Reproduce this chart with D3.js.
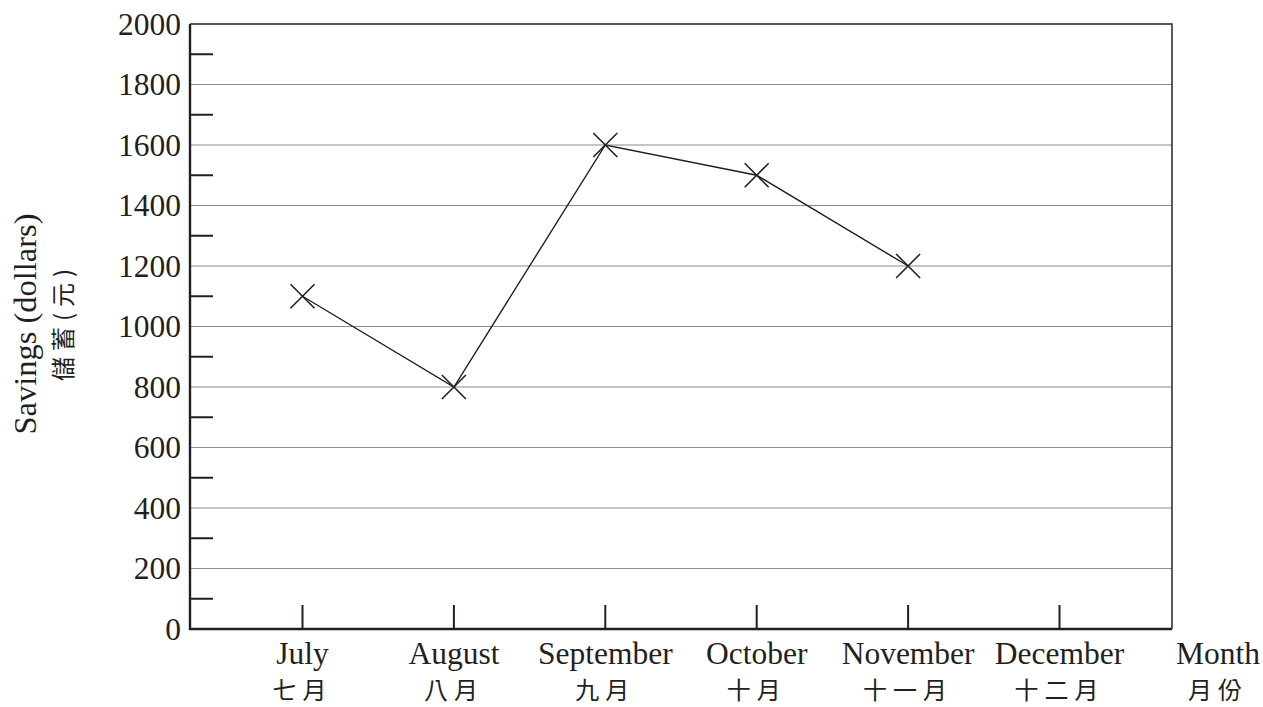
<!DOCTYPE html>
<html>
<head>
<meta charset="utf-8">
<script src="https://cdn.jsdelivr.net/npm/d3@7"></script>
<style>
  body { margin: 0; background: #fff; }
  text { font-family: "Liberation Serif", "Times New Roman", serif; fill: #231f20; }
  .zh { font-family: "Noto Sans CJK TC", "Noto Sans CJK SC", sans-serif; }
</style>
</head>
<body>
<svg width="1263" height="707"></svg>
<script>
var months = ["July", "August", "September", "October", "November", "December"],
    monthsZh = ["七月", "八月", "九月", "十月", "十一月", "十二月"],
    savings = [1100, 800, 1600, 1500, 1200],
    yLabels = [0, 200, 400, 600, 800, 1000, 1200, 1400, 1600, 1800, 2000],
    yMinor = [100, 300, 500, 700, 900, 1100, 1300, 1500, 1700, 1900];

var svg = d3.select("svg"),
    margin = {top: 24, right: 91, bottom: 78, left: 190},
    width = +svg.attr("width") - margin.left - margin.right,
    height = +svg.attr("height") - margin.top - margin.bottom,
    g = svg.append("g").attr("transform", "translate(" + margin.left + "," + margin.top + ")");

var x = d3.scalePoint()
    .domain(months)
    .range([0, width])
    .padding(0.743);
var y = d3.scaleLinear()
    .domain([0, 2000])
    .range([height, 0]);

// gridlines
g.append("g")
  .selectAll("line")
  .data(yLabels.slice(1))
  .enter().append("line")
    .attr("x1", 0).attr("x2", width)
    .attr("y1", function(d) { return y(d); })
    .attr("y2", function(d) { return y(d); })
    .style("stroke", "#8c8c8c")
    .style("stroke-width", 1.2);

// frame top/right
g.append("path")
    .attr("d", "M0," + y(2000) + "H" + width + "V" + height)
    .style("fill", "none")
    .style("stroke", "#333")
    .style("stroke-width", 1.6);

// minor y ticks (inward)
g.append("g")
  .selectAll("line")
  .data(yMinor)
  .enter().append("line")
    .attr("x1", 0).attr("x2", 23)
    .attr("y1", function(d) { return y(d); })
    .attr("y2", function(d) { return y(d); })
    .style("stroke", "#231f20")
    .style("stroke-width", 2);

// y tick labels
g.append("g")
  .selectAll("text")
  .data(yLabels)
  .enter().append("text")
    .attr("x", -9)
    .attr("y", function(d) { return y(d); })
    .attr("dy", "0.34em")
    .attr("text-anchor", "end")
    .style("font-size", "31.5px")
    .text(function(d) { return d; });

// x ticks (inward)
g.append("g")
  .selectAll("line")
  .data(months)
  .enter().append("line")
    .attr("x1", function(d) { return x(d); })
    .attr("x2", function(d) { return x(d); })
    .attr("y1", height).attr("y2", height - 24)
    .style("stroke", "#231f20")
    .style("stroke-width", 2);

// axes lines
g.append("path")
    .attr("d", "M0,0V" + height + "H" + width)
    .style("fill", "none")
    .style("stroke", "#231f20")
    .style("stroke-width", 2.4);

// x labels
var lab = g.append("g").selectAll("g")
    .data(months)
  .enter().append("g")
    .attr("transform", function(d) { return "translate(" + x(d) + ",0)"; });
lab.append("text")
    .attr("y", height + 35)
    .attr("text-anchor", "middle")
    .style("font-size", "31.5px")
    .text(function(d) { return d; });
lab.append("text")
    .attr("class", "zh")
    .attr("y", height + 70)
    .attr("text-anchor", "middle")
    .style("font-size", "24px")
    .style("letter-spacing", "6px")
    .text(function(d, i) { return monthsZh[i]; });

var step = x.step();
var mx = x(months[months.length - 1]) + step + 7;
g.append("text")
    .attr("x", mx).attr("y", height + 35)
    .attr("text-anchor", "middle")
    .style("font-size", "31.5px")
    .text("Month");
g.append("text")
    .attr("class", "zh")
    .attr("x", mx).attr("y", height + 70)
    .attr("text-anchor", "middle")
    .style("font-size", "24px")
    .style("letter-spacing", "6px")
    .text("月份");

// y axis title
svg.append("text")
    .attr("transform", "translate(36," + (margin.top + 300) + ") rotate(-90)")
    .attr("text-anchor", "middle")
    .style("font-size", "32.5px")
    .text("Savings (dollars)");
svg.append("text")
    .attr("class", "zh")
    .attr("transform", "translate(72," + (margin.top + 298) + ") rotate(-90)")
    .attr("text-anchor", "middle")
    .style("font-size", "24px")
    .style("letter-spacing", "6px")
    .text("儲蓄(元)");

// line
var line = d3.line()
    .x(function(d, i) { return x(months[i]); })
    .y(function(d) { return y(d); });
g.append("path")
    .datum(savings)
    .attr("d", line)
    .style("fill", "none")
    .style("stroke", "#231f20")
    .style("stroke-width", 1.4);

// X markers
var s = 12;
g.append("g").selectAll("path")
    .data(savings)
  .enter().append("path")
    .attr("transform", function(d, i) { return "translate(" + x(months[i]) + "," + y(d) + ")"; })
    .attr("d", "M" + -s + "," + -s + "L" + s + "," + s + "M" + -s + "," + s + "L" + s + "," + -s)
    .style("stroke", "#231f20")
    .style("stroke-width", 1.6);
</script>
</body>
</html>
